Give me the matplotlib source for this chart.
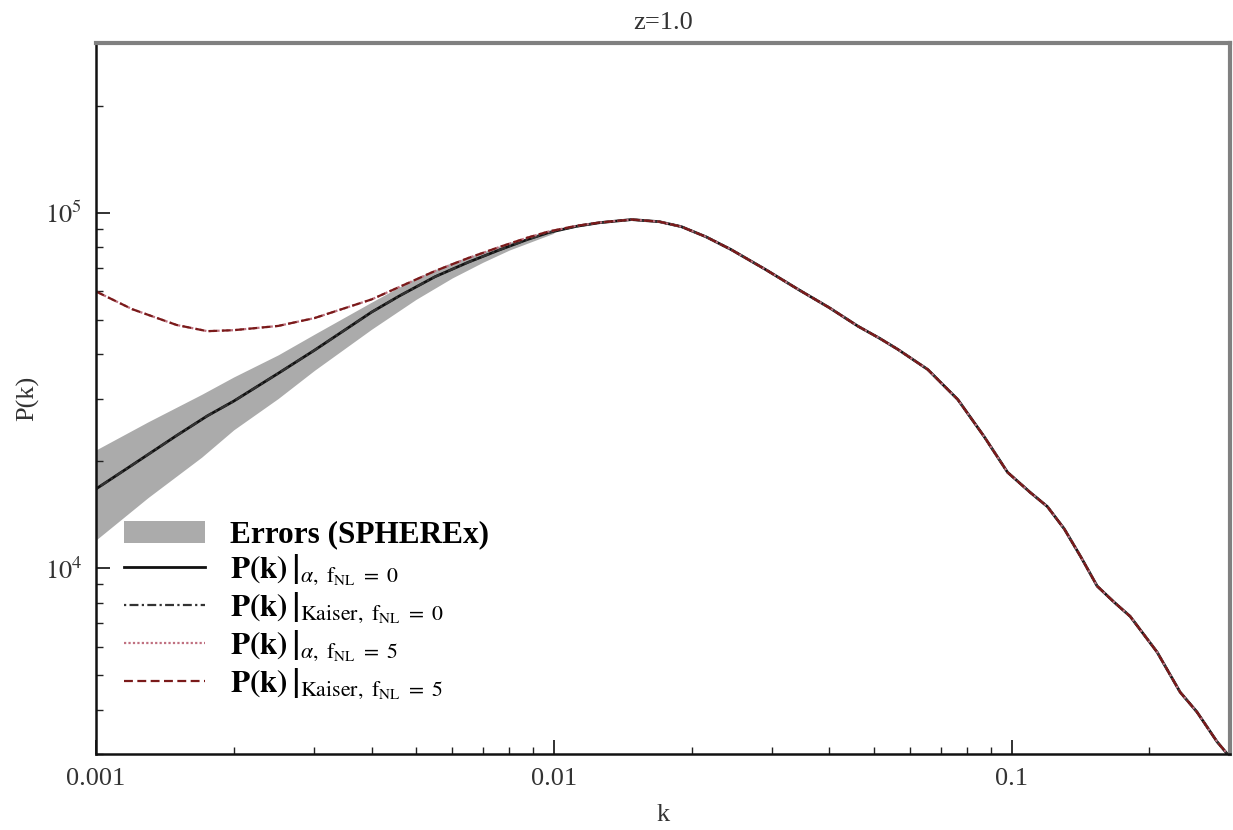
import matplotlib
matplotlib.use("Agg")
import matplotlib.pyplot as plt
from matplotlib.ticker import LogLocator, FixedLocator, FixedFormatter, NullFormatter

plt.rcParams['font.family'] = ['Liberation Serif', 'DejaVu Serif']
plt.rcParams['mathtext.fontset'] = 'stix'

# ---- data ----
k_vals = [0.001, 0.0012, 0.0015, 0.00175, 0.002, 0.0025, 0.003, 0.004, 0.0046, 0.0055,
          0.0065, 0.0076, 0.00875, 0.00975, 0.0112, 0.0126, 0.01479, 0.0170, 0.0190,
          0.0215, 0.0244, 0.0290, 0.0342, 0.040, 0.0462, 0.0515, 0.0565, 0.0656,
          0.0763, 0.0870, 0.0980, 0.110, 0.1197, 0.1303, 0.142, 0.1538, 0.1675,
          0.1815, 0.208, 0.2334, 0.254, 0.281, 0.296]

pk_alpha_f0 = [16700, 19500, 23600, 26800, 29500, 35300, 41000, 52500, 58300, 66000,
               72500, 78500, 84000, 87900, 91500, 93700, 95600, 94300, 91300,
               85500, 78700, 69200, 60800, 54000, 47900, 44300, 41200, 36200,
               29800, 23500, 18600, 16300, 14900, 12900, 10700, 8900, 8020,
               7320, 5800, 4480, 3940, 3250, 3000]
pk_kaiser_f0 = [16700, 19500, 23600, 26800, 29500, 35300, 41000, 52500, 58300, 66000,
                72500, 78500, 84000, 87900, 91500, 93700, 95600, 94300, 91300,
                85500, 78700, 69200, 60800, 54000, 47900, 44300, 41200, 36200,
                29800, 23500, 18600, 16300, 14900, 12900, 10700, 8900, 8020,
                7320, 5800, 4480, 3940, 3250, 3000]
pk_alpha_f5 = [60000, 53500, 48300, 46400, 46700, 48000, 50500, 57000, 61800, 68500,
               74500, 80000, 85000, 88500, 91800, 93800, 95600, 94300, 91300,
               85500, 78700, 69200, 60800, 54000, 47900, 44300, 41200, 36200,
               29800, 23500, 18600, 16300, 14900, 12900, 10700, 8900, 8020,
               7320, 5800, 4480, 3940, 3250, 3000]
pk_kaiser_f5 = [60000, 53500, 48300, 46400, 46700, 48000, 50500, 57000, 61800, 68500,
                74500, 80000, 85000, 88500, 91800, 93800, 95600, 94300, 91300,
                85500, 78700, 69200, 60800, 54000, 47900, 44300, 41200, 36200,
                29800, 23500, 18600, 16300, 14900, 12900, 10700, 8900, 8020,
                7320, 5800, 4480, 3940, 3250, 3000]

k_err = [0.001, 0.0013, 0.0017, 0.002, 0.0025, 0.003, 0.004, 0.005, 0.006, 0.007, 0.008, 0.01]
err_low = [12000, 15800, 20500, 24500, 30000, 36000, 47000, 57000, 65500, 72500, 78500, 87500]
err_high = [21500, 25800, 30800, 34500, 39800, 45500, 56000, 65500, 72500, 77500, 82500, 88500]

x_ticks = [0.001, 0.01, 0.1]
x_ticklabels = ['0.001', '0.01', '0.1']
y_ticks = [1e4, 1e5]
y_ticklabels = [r'$10^{4}$', r'$10^{5}$']

title = 'z=1.0'
labels = ['Errors (SPHEREx)',
          r'$\left.\mathbf{P(k)}\,\right|_{\alpha,\ \mathrm{f}_{\mathrm{NL}}\ =\ 0}$',
          r'$\left.\mathbf{P(k)}\,\right|_{\mathrm{Kaiser},\ \mathrm{f}_{\mathrm{NL}}\ =\ 0}$',
          r'$\left.\mathbf{P(k)}\,\right|_{\alpha,\ \mathrm{f}_{\mathrm{NL}}\ =\ 5}$',
          r'$\left.\mathbf{P(k)}\,\right|_{\mathrm{Kaiser},\ \mathrm{f}_{\mathrm{NL}}\ =\ 5}$']

# ---- figure ----
fig = plt.figure(figsize=(12.33, 8.30), dpi=100)
ax = fig.add_axes([96/1233, 1-754/830, (1230-96)/1233, (754-43)/830])

band = ax.fill_between(k_err, err_low, err_high, color='#ababab', lw=0)
l1, = ax.plot(k_vals, pk_alpha_f0, color='#111111', lw=2.0, ls='-')
l2, = ax.plot(k_vals, pk_kaiser_f0, color='#333333', lw=1.6, ls=(0, (1, 1.5, 4, 1.5)))
l3, = ax.plot(k_vals, pk_alpha_f5, color='#c07080', lw=1.6, ls=(0, (1, 1)))
l4, = ax.plot(k_vals, pk_kaiser_f5, color='#7a1a1a', lw=1.6, ls=(0, (4, 2)))

ax.set_xscale('log')
ax.set_yscale('log')
ax.set_xlim(0.001, 0.3)
ax.set_ylim(3000, 3.0e5)

ax.xaxis.set_major_locator(FixedLocator(x_ticks))
ax.xaxis.set_major_formatter(FixedFormatter(x_ticklabels))
ax.xaxis.set_minor_locator(LogLocator(base=10, subs=range(2, 10)))
ax.xaxis.set_minor_formatter(NullFormatter())
ax.yaxis.set_major_locator(FixedLocator(y_ticks))
ax.yaxis.set_major_formatter(FixedFormatter(y_ticklabels))
ax.yaxis.set_minor_locator(LogLocator(base=10, subs=range(2, 10)))
ax.yaxis.set_minor_formatter(NullFormatter())

ax.tick_params(which='both', direction='in', top=False, right=False, colors='#222222')
ax.tick_params(which='major', length=10, width=1.3, labelsize=19, pad=10, labelcolor='#333333')
ax.tick_params(which='minor', length=5, width=1.0)

for s in ['left', 'bottom']:
    ax.spines[s].set_color('#111111')
    ax.spines[s].set_linewidth(1.8)
for s in ['top', 'right']:
    ax.spines[s].set_color('#808080')
    ax.spines[s].set_linewidth(3.0)

ax.set_title(title, fontsize=19, pad=10, color='#333333')
ax.set_xlabel('k', fontsize=19, labelpad=10, color='#333333')
ax.set_ylabel('P(k)', fontsize=19, labelpad=4, color='#333333')

leg = ax.legend([band, l1, l2, l3, l4], labels, loc='lower left',
                bbox_to_anchor=(0.0, 0.035), frameon=False, fontsize=22.5,
                handlelength=2.6, handletextpad=0.8, labelspacing=0.1)
leg.get_texts()[0].set_fontweight('bold')

fig.savefig('out.png', dpi=100)
